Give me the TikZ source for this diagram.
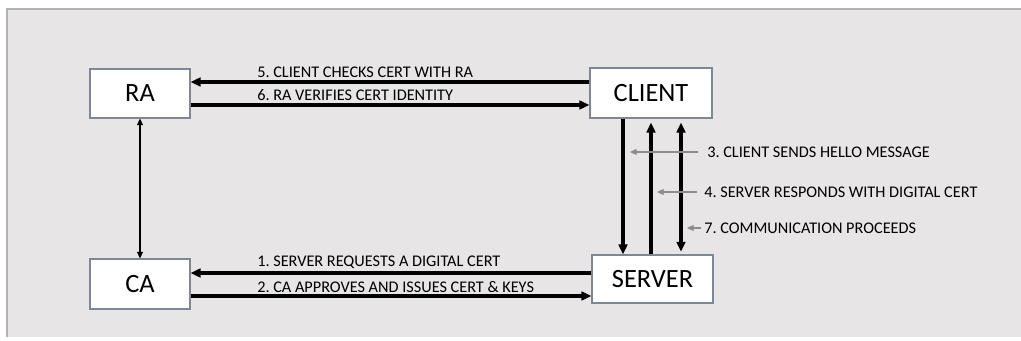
\documentclass[tikz,border=0pt]{standalone}
\usepackage{fontspec}
\setmainfont{Carlito}
\frenchspacing
\usetikzlibrary{arrows.meta}
\definecolor{panelfill}{RGB}{231,229,230}
\definecolor{panelline}{RGB}{178,178,178}
\definecolor{boxline}{RGB}{125,135,150}
\definecolor{ptrgray}{RGB}{140,140,140}
\tikzset{
  entity/.style={draw=boxline, line width=0.8pt, fill=white, inner sep=0pt,
    font=\fontsize{19.8}{23}\selectfont},
  msg/.style={anchor=west, inner sep=0pt, font=\fontsize{12.2}{14}\selectfont},
  flow/.style={line width=2.3pt, -{Triangle[length=7.5pt,width=6.5pt]}},
  flowboth/.style={line width=2.3pt, {Triangle[length=7.5pt,width=6.5pt]}-{Triangle[length=7.5pt,width=6.5pt]}},
  link/.style={line width=0.8pt, {Triangle[length=5pt,width=4.5pt]}-{Triangle[length=5pt,width=4.5pt]}},
  ptr/.style={draw=ptrgray, line width=0.8pt, -{Triangle[length=5pt,width=4.5pt]}},
}
\begin{document}
\begin{tikzpicture}[x=0.75pt, y=-0.75pt]
\useasboundingbox (0,0) rectangle (1021,341);
% background panel
\fill[white] (0,0) rectangle (1021,341);
\fill[panelfill] (7,9) rectangle (1021,337);
\draw[panelline, line width=0.8pt] (7,337) -- (7,9) -- (1021,9);

% parties
\node[entity, minimum width=100*0.75pt, minimum height=49*0.75pt] (ra) at (140,93.5) {RA};
\node[entity, minimum width=122*0.75pt, minimum height=50*0.75pt] (client) at (651,93) {CLIENT};
\node[entity, minimum width=121*0.75pt, minimum height=48*0.75pt] (server) at (652.5,279) {SERVER};
\node[entity, minimum width=100*0.75pt, minimum height=50*0.75pt] (ca) at (140,284) {CA};

% levels of the horizontal messages and vertical channels
\coordinate (y5) at (0,82);
\coordinate (y6) at (0,105);
\coordinate (y1) at (0,273);
\coordinate (y2) at (0,296);
\coordinate (x3) at (623,0);
\coordinate (x4) at (651,0);
\coordinate (x7) at (681,0);

% RA <-> CLIENT
\draw[flow] (client.west |- y5) -- (ra.east |- y5);
\draw[flow] (ra.east |- y6) -- (client.west |- y6);
\node[msg] (m5) at (257,72) {5. CLIENT CHECKS CERT WITH RA};
\node[msg] (m6) at (257,95) {6. RA VERIFIES CERT IDENTITY};

% CA <-> SERVER
\draw[flow] (server.west |- y1) -- (ca.east |- y1);
\draw[flow] (ca.east |- y2) -- (server.west |- y2);
\node[msg] (m1) at (257,262) {1. SERVER REQUESTS A DIGITAL CERT};
\node[msg] (m2) at (257,287) {2. CA APPROVES AND ISSUES CERT \& KEYS};

% RA <-> CA
\draw[link] (ra.south) -- (ca.north);

% CLIENT <-> SERVER channels
\draw[flow] (client.south -| x3) -- (server.north -| x3);
\draw[flow, shorten >=3pt] (server.north -| x4) -- (client.south -| x4);
\draw[flowboth, shorten <=2pt, shorten >=3pt] (server.north -| x7) -- (client.south -| x7);

% channel captions with pointers
\node[msg] (m3) at (707,152) {3. CLIENT SENDS HELLO MESSAGE};
\node[msg] (m4) at (704,192) {4. SERVER RESPONDS WITH DIGITAL CERT};
\node[msg] (m7) at (704,228) {7. COMMUNICATION PROCEEDS};
\coordinate (p3) at (630,152);
\coordinate (p4) at (657,192);
\coordinate (p7) at (687,228);
\draw[ptr] ([xshift=-7pt]m3.west) -- (p3);
\draw[ptr] ([xshift=-5pt]m4.west) -- (p4);
\draw[ptr] ([xshift=-2pt]m7.west) -- (p7);
\end{tikzpicture}
\end{document}
